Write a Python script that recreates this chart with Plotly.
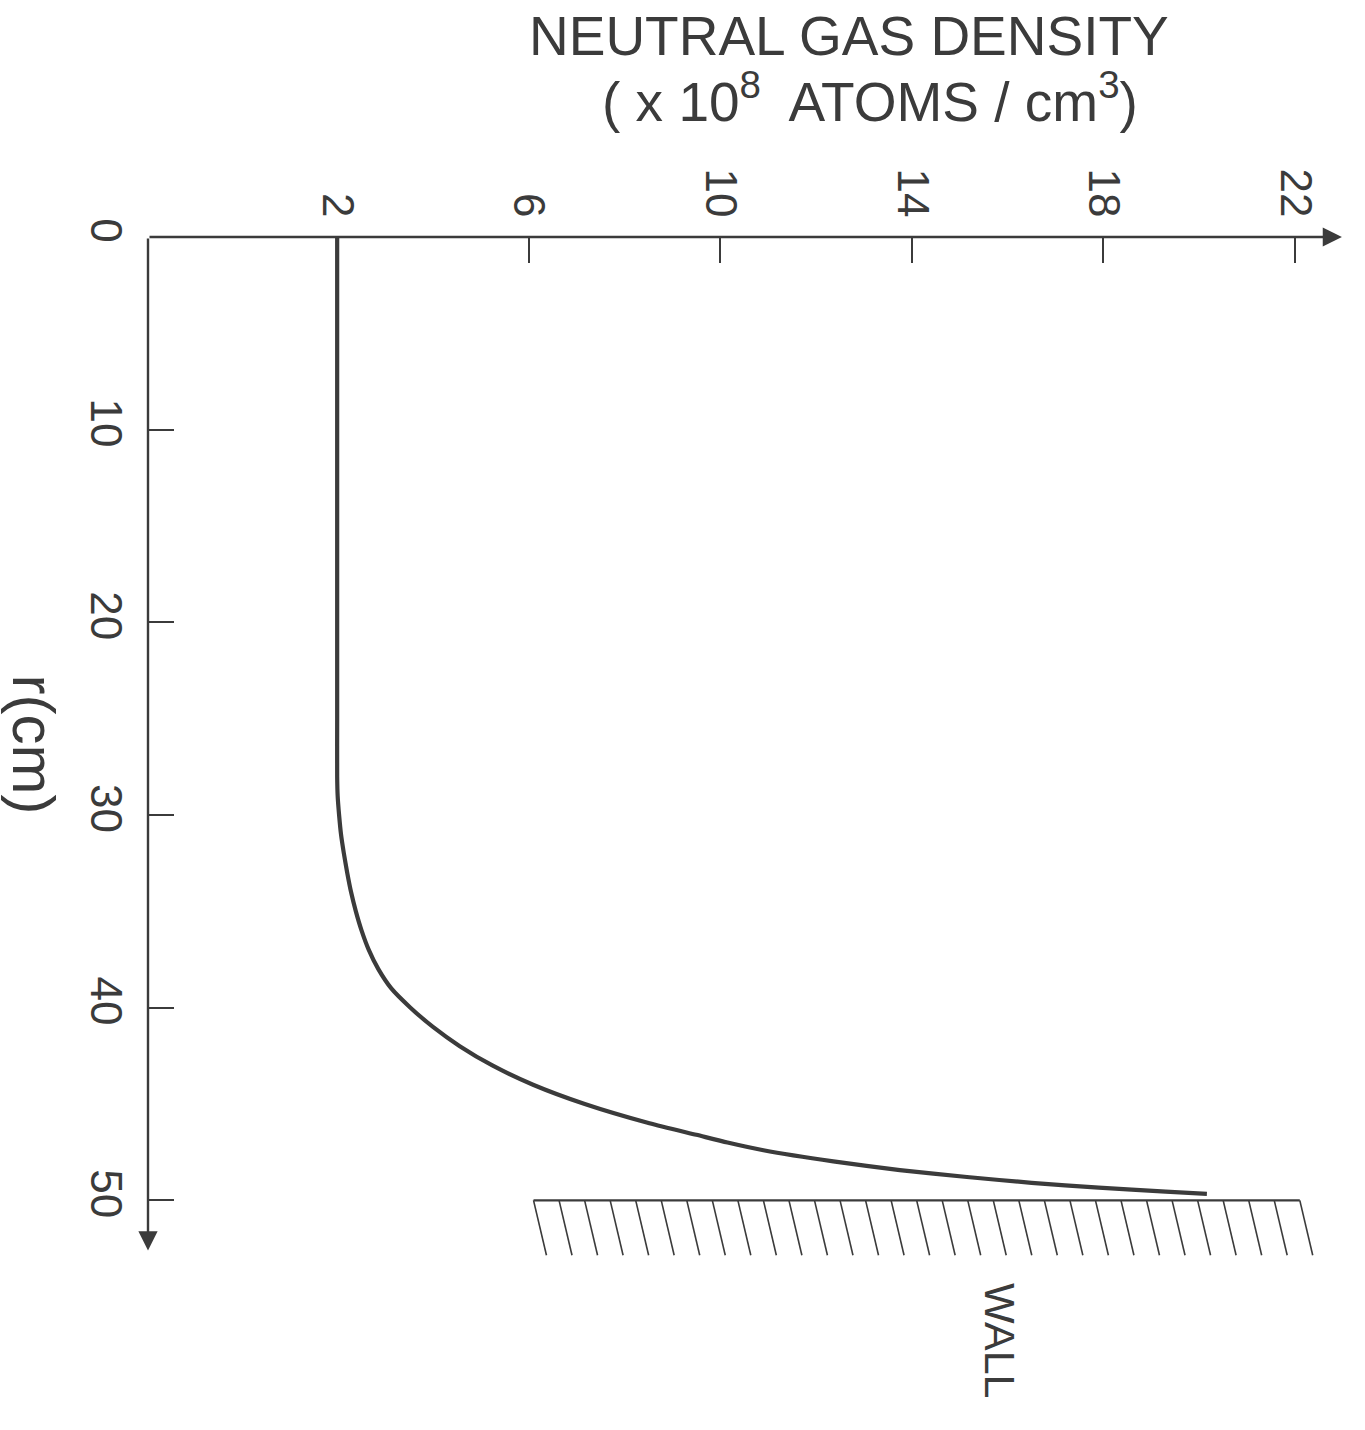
import plotly.graph_objects as go

# ---- data ----
r_cm = [0, 10, 20, 25, 28, 29, 30, 31, 32, 33, 34, 35, 36, 37, 38, 39, 40, 41, 42, 43, 44,
        45, 46, 46.6, 47, 47.4, 47.98, 48.43, 48.79, 49.09, 49.34, 49.55, 49.66]
density = [2.0, 2.0, 2.0, 2.0, 2.0, 2.01, 2.04, 2.08, 2.14, 2.21, 2.29, 2.39, 2.51, 2.66, 2.86,
           3.13, 3.53, 4.0, 4.56, 5.24, 6.09, 7.17, 8.52, 9.5, 10.15, 10.9, 12.36, 13.75,
           15.15, 16.5, 17.9, 19.3, 20.16]

density_ticks = [2, 6, 10, 14, 18, 22]
r_ticks = [0, 10, 20, 30, 40, 50]

wall_r = 50.0
wall_d_start = 6.1
wall_d_end = 22.1
hatch_count = 31
hatch_depth = 2.85
hatch_slant = 0.27

INK = "#3b3b3b"
FONT = "Liberation Sans"

x_min, x_max = -1.95, 23.357
y_top, y_bottom = 0, 60

fig = go.Figure()

# wall hatching
hx, hy = [], []
step = (wall_d_end - wall_d_start) / (hatch_count - 1)
for i in range(hatch_count):
    d0 = wall_d_start + i * step
    hx += [d0, d0 + hatch_slant, None]
    hy += [wall_r, wall_r + hatch_depth, None]
fig.add_trace(go.Scatter(x=hx, y=hy, mode="lines", line=dict(color=INK, width=1.6),
                         hoverinfo="skip", showlegend=False))
fig.add_trace(go.Scatter(x=[wall_d_start, wall_d_end], y=[wall_r, wall_r], mode="lines",
                         line=dict(color=INK, width=2.2), hoverinfo="skip", showlegend=False))

# density profile
fig.add_trace(go.Scatter(x=density, y=r_cm, mode="lines",
                         line=dict(color=INK, width=4.2, shape="spline", smoothing=0.6),
                         showlegend=False))

annotations = [
    # axes with arrows
    dict(x=22.98, y=0, ax=x_min, ay=0, xref="x", yref="y", axref="x", ayref="y",
         text="", showarrow=True, arrowhead=2, arrowsize=1.6, arrowwidth=2.4, arrowcolor=INK),
    dict(x=x_min, y=52.6, ax=x_min, ay=0, xref="x", yref="y", axref="x", ayref="y",
         text="", showarrow=True, arrowhead=2, arrowsize=1.6, arrowwidth=2.4, arrowcolor=INK),
    # titles
    dict(x=0.578, y=1.1735, xref="paper", yref="paper", showarrow=False,
         xanchor="center", yanchor="middle",
         text="NEUTRAL GAS DENSITY", font=dict(family=FONT, size=55, color=INK)),
    dict(x=0.596, y=1.1205, xref="paper", yref="paper", showarrow=False,
         xanchor="center", yanchor="middle",
         text="( x 10<sup>8</sup>\u00a0 ATOMS / cm<sup>3</sup>)",
         font=dict(family=FONT, size=55, color=INK)),
    dict(x=-0.0945, y=0.5606, xref="paper", yref="paper", showarrow=False, textangle=90,
         xanchor="center", yanchor="middle",
         text="r(cm)", font=dict(family=FONT, size=60, color=INK)),
    dict(x=15.84, y=57.3, xref="x", yref="y", showarrow=False, textangle=90,
         xanchor="center", yanchor="middle",
         text="WALL", font=dict(family=FONT, size=43, color=INK)),
]

fig.update_layout(
    width=1365, height=1430,
    margin=dict(l=148, r=5, t=237, b=37, pad=0),
    paper_bgcolor="white", plot_bgcolor="white",
    annotations=annotations,
    xaxis=dict(range=[x_min, x_max], side="top", showgrid=False, zeroline=False, showline=False,
               tickmode="array", tickvals=density_ticks, ticktext=[str(v) for v in density_ticks],
               ticks="inside", ticklen=26, tickwidth=2, tickcolor=INK, tickangle=90,
               ticklabelstandoff=12,
               tickfont=dict(family=FONT, size=44, color=INK)),
    yaxis=dict(range=[y_bottom, y_top], showgrid=False, zeroline=False, showline=False,
               tickmode="array", tickvals=r_ticks, ticktext=[str(v) for v in r_ticks],
               ticks="inside", ticklen=26, tickwidth=2, tickcolor=INK, tickangle=90,
               ticklabelstandoff=12,
               tickfont=dict(family=FONT, size=44, color=INK)),
)

fig.write_html("out.html", config={"displayModeBar": False},
               post_script="document.body.style.margin='0';")
